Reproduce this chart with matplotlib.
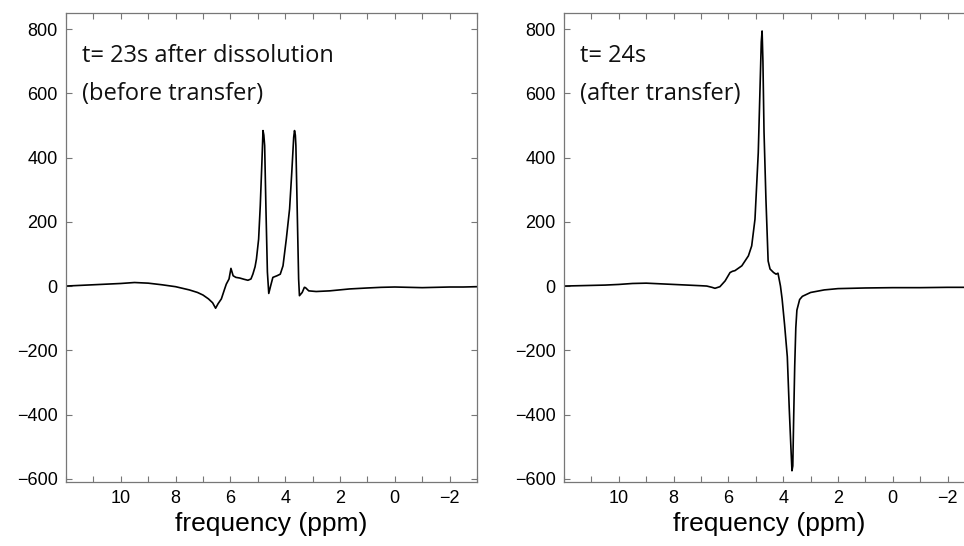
import matplotlib
matplotlib.use('Agg')
import matplotlib.pyplot as plt

# spectrum at t = 23 s (before transfer): chemical shift (ppm) and signal
ppm_23 = [12.0, 11.5, 11.0, 10.5, 10.0, 9.5, 9.0, 8.5, 8.0, 7.5, 7.2, 7.0, 6.8,
          6.65, 6.54, 6.45, 6.33, 6.21, 6.15, 6.05, 5.98, 5.90, 5.80, 5.66, 5.50,
          5.36, 5.25, 5.18, 5.10, 5.05, 4.97, 4.91, 4.85, 4.81, 4.78, 4.75, 4.70,
          4.65, 4.60, 4.53, 4.45, 4.30, 4.18, 4.08, 3.96, 3.84, 3.76, 3.69, 3.66,
          3.63, 3.61, 3.56, 3.51, 3.48, 3.38, 3.30, 3.26, 3.14, 2.87, 2.38, 1.65,
          1.0, 0.5, 0.0, -0.5, -1.0, -1.5, -2.0, -2.5, -3.0]
sig_23 = [0, 2, 4, 6, 8, 11, 9, 4, -2, -12, -20, -28, -40,
          -52, -69, -55, -40, -9, 6, 22, 55, 32, 27, 25, 21,
          18, 22, 37, 60, 84, 146, 250, 386, 484, 470, 437, 230,
          44, -23, 1, 27, 32, 37, 63, 146, 240, 354, 463, 484,
          470, 437, 230, 22, -30, -20, -4, -5, -15, -17, -15, -9,
          -6, -4, -3, -4, -5, -4, -3, -3, -2]

# spectrum at t = 24 s (after transfer)
ppm_24 = [12.0, 11.5, 11.0, 10.5, 10.0, 9.5, 9.0, 8.5, 8.0, 7.5, 7.0, 6.79,
          6.60, 6.49, 6.31, 6.12, 5.94, 5.85, 5.76, 5.51, 5.27, 5.15, 5.03, 4.91,
          4.85, 4.80, 4.77, 4.74, 4.70, 4.63, 4.55, 4.48, 4.35, 4.26, 4.19, 4.10,
          4.04, 3.95, 3.85, 3.78, 3.72, 3.68, 3.65, 3.62, 3.58, 3.54, 3.50, 3.40,
          3.30, 3.0, 2.5, 2.0, 1.5, 1.0, 0.0, -1.0, -2.0, -3.0]
sig_24 = [0, 1, 2, 3, 5, 8, 9, 7, 5, 3, 1, 0,
          -4, -7, -2, 16, 42, 46, 48, 63, 94, 125, 208, 415,
          603, 760, 794, 700, 480, 270, 78, 53, 42, 37, 40, 0,
          -40, -120, -220, -380, -500, -575, -560, -420, -250, -130, -75, -42,
          -32, -20, -12, -8, -7, -6, -5, -5, -4, -4]

panels = [
    (ppm_23, sig_23, 't= 23s after dissolution', '(before transfer)'),
    (ppm_24, sig_24, 't= 24s', '(after transfer)'),
]

plt.rcParams['font.family'] = ['Liberation Sans', 'DejaVu Sans']

fig = plt.figure(figsize=(9.64, 5.46), dpi=100)
W, H = 964.0, 546.0
lefts = [66, 564]
for (ppm, sig, line1, line2), lx in zip(panels, lefts):
    ax = fig.add_axes([lx / W, (H - 482) / H, 411 / W, 469 / H])
    ax.plot(ppm, sig, color='black', lw=1.2)
    ax.set_xlim(12, -3)
    ax.set_ylim(-610, 850)
    ax.set_xticks(range(-3, 13))
    ax.set_xticklabels([str(v).replace('-', '\u2212') if v % 2 == 0 and v <= 10 else ''
                        for v in range(-3, 13)])
    ax.set_yticks(range(-600, 801, 200))
    ax.tick_params(direction='in', length=4, width=0.8, color='#777777',
                   top=True, right=True, labelsize=13, pad=6)
    for s in ax.spines.values():
        s.set_color('#777777')
        s.set_linewidth(0.9)
    ax.set_xlabel('frequency (ppm)', fontsize=19, labelpad=3)
    ax.text(0.039, 0.896, line1, transform=ax.transAxes, fontsize=17,
            family='Open Sans', va='baseline', color='#111111')
    ax.text(0.039, 0.815, line2, transform=ax.transAxes, fontsize=17,
            family='Open Sans', va='baseline', color='#111111')

fig.savefig('out.png', dpi=100)
